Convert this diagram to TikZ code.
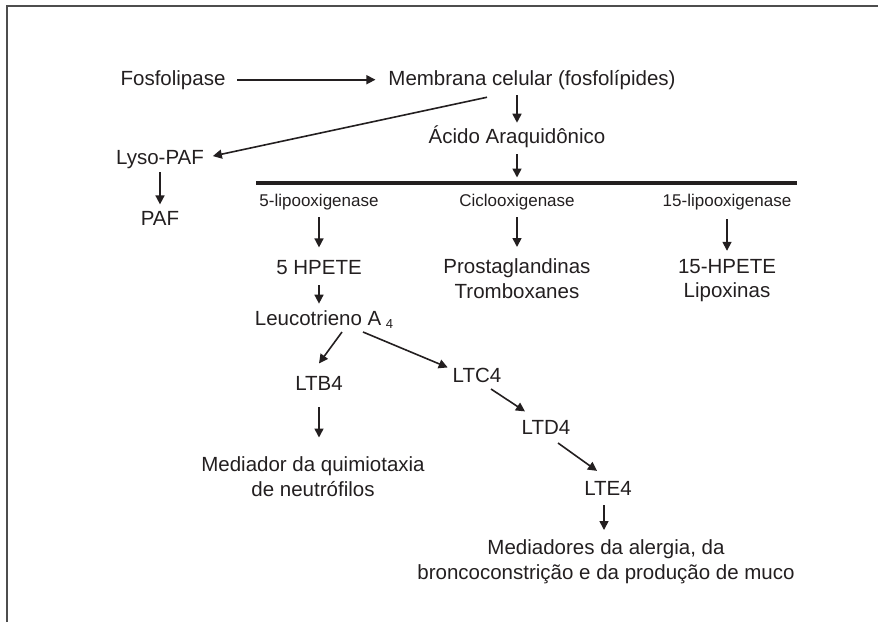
\documentclass[tikz,border=0pt]{standalone}
\usepackage{fontspec}
\setmainfont{Liberation Sans}
\usepackage{tikz}
\usetikzlibrary{arrows.meta}
\definecolor{tinta}{HTML}{231F20}
\definecolor{borda}{HTML}{4D4D4D}
\tikzset{
    rotulo/.style={anchor=base,inner sep=0pt,outer sep=0pt,font=\fontsize{20.5}{24.5}\selectfont},
    enzima/.style={rotulo,font=\fontsize{17}{20}\selectfont},
    bloco/.style={anchor=north,inner sep=0pt,outer sep=0pt,align=center,font=\fontsize{20.5}{24.5}\selectfont},
    seta/.style={line width=1.6pt,-{Triangle[length=9pt,width=9pt]}},
    moldura/.style={line width=1.2pt,draw=borda},
}

\begin{document}
\begin{tikzpicture}[x=1pt,y=-1pt,color=tinta]
    \useasboundingbox (0,0) rectangle (878,622);
    \draw[moldura] (7,622) -- (7,6) -- (878,6);
    \node[rotulo] (F) at (173,85) {Fosfolipase};
    \node[rotulo] (M) at (532,85) {Membrana celular (fosfolípides)};
    \node[rotulo] (A) at (517,143) {Ácido Araquidônico};
    \node[rotulo] (L) at (160,164) {Lyso-PAF};
    \node[rotulo] (P) at (160,225) {PAF};
    \coordinate (B1) at (256,183);
    \coordinate (B2) at (797,183);
    \node[enzima] (E5) at (319,206) {5-lipooxigenase};
    \node[enzima] (EC) at (517,206) {Ciclooxigenase};
    \node[enzima] (E15) at (727,206) {15-lipooxigenase};
    \node[rotulo] (H5) at (319,274) {5 HPETE};
    \node[bloco] (PT) at (517,259) {Prostaglandinas\\Tromboxanes};
    \node[bloco] (H15) at (727,259.3) {15-HPETE\\Lipoxinas};
    \node[rotulo] (LA) at (324,325) {Leucotrieno A\hspace{4.5pt}\raisebox{-3.3pt}{\fontsize{13}{13}\selectfont 4}};
    \node[rotulo] (B4) at (319,390) {LTB4};
    \node[rotulo] (C4) at (477,382) {LTC4};
    \node[rotulo] (D4) at (546,434) {LTD4};
    \node[rotulo] (E4) at (608,495) {LTE4};
    \node[bloco] (MQ) at (313,457) {Mediador da quimiotaxia\\de neutrófilos};
    \node[bloco] (MA) at (606,540) {Mediadores da alergia, da\\broncoconstrição e da produção de muco};
    \draw[line width=3.2pt] (B1) -- (B2);
    \draw[seta,shorten <=12pt,shorten >=13pt] (F.east) -- (F.east -| M.west);
    \draw[seta,shorten <=6pt,shorten >=2.5pt] (M.south -| A.north) -- (A.north);
    \draw[seta,shorten <=7pt,shorten >=5.5pt] (A.south) -- (A.south |- B1);
    \draw[seta] ([xshift=-45pt,yshift=-8pt]M.south) -- ([xshift=9pt,yshift=3pt]L.east);
    \draw[seta,shorten <=4pt,shorten >=6.5pt] (L.south) -- (L.south |- P.north);
    \draw[seta,shorten <=7.5pt,shorten >=12.5pt] (E5.south) -- (E5.south |- H5.north);
    \draw[seta,shorten <=7.5pt,shorten >=12pt] (EC.south) -- (PT.north);
    \draw[seta,shorten <=9.5pt,shorten >=8.5pt] (E15.south) -- (H15.north);
    \draw[seta,shorten <=11pt,shorten >=6.5pt] (H5.south) -- (H5.south |- LA.north);
    \draw[seta] ([xshift=18pt,yshift=-7pt]LA.base) -- ([yshift=12.5pt]B4.north);
    \draw[seta] ([xshift=39pt,yshift=-7pt]LA.base) -- ([xshift=-5pt,yshift=7.5pt]C4.west);
    \draw[seta] ([xshift=14pt,yshift=-7pt]C4.base) -- ([xshift=-21pt,yshift=8.5pt]D4.north);
    \draw[seta] ([xshift=12pt,yshift=-9pt]D4.base) -- ([xshift=-11pt,yshift=10pt]E4.north);
    \draw[seta,shorten <=17pt,shorten >=19.5pt] (B4.south) -- (B4.south |- MQ.north);
    \draw[seta,shorten <=10pt,shorten >=10pt] ([xshift=-4pt]E4.south) -- ([xshift=-4pt]E4.south |- MA.north);
\end{tikzpicture}
\end{document}
